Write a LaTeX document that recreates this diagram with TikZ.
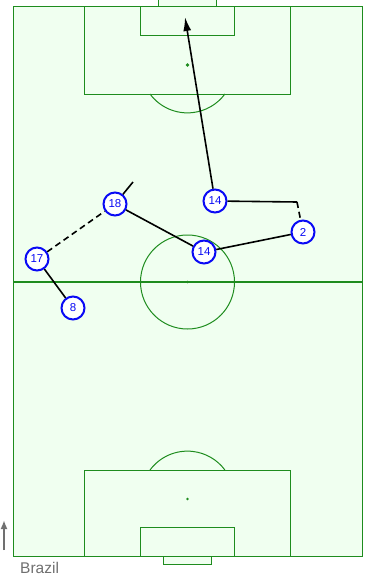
\documentclass[tikz,border=0pt]{standalone}
\usepackage{fontspec}
\setmainfont{Liberation Sans}
\usetikzlibrary{arrows.meta}
\definecolor{pitchfill}{HTML}{F0FFF0}
\definecolor{pitchline}{HTML}{1E8C1E}
\definecolor{playerblue}{HTML}{0A0AF5}
\definecolor{labelgray}{HTML}{707070}
\tikzset{
  pline/.style={draw=pitchline, line width=1pt},
  player/.style={circle, draw=playerblue, fill=white, line width=2pt, minimum size=23pt, inner sep=0pt, text=playerblue, font=\fontsize{11.5}{11.5}\selectfont},
  pass/.style={draw=black, line width=1.6pt},
  passdash/.style={pass, dash pattern=on 6pt off 4pt},
  shot/.style={pass, -{Latex[length=14pt,width=8pt]}},
}
\begin{document}
\begin{tikzpicture}[x=1pt,y=-1pt]
\useasboundingbox (0,0) rectangle (364,578);
% pitch
\fill[white] (0,0) rectangle (364,578);
\path[pline, fill=pitchfill] (13,7) rectangle (362,556);
\draw[pline, line width=1.6pt] (13,282) -- (362,282);
\draw[pline] (187.5,282) circle (47);
\draw[pitchline, line width=0.6pt] (187.5,282) circle (1);
% top end
\path[pline, fill=pitchfill] (158,0) rectangle (216,7);
\draw[pline] (84,7) rectangle (290,94);
\draw[pline] (140,7) rectangle (234,36);
\draw[pline] (187.5,65) circle (1.2);
\draw[pline] (150,94) arc[start angle=143.5, end angle=36.5, radius=46.6];
% bottom end
\path[pline, fill=pitchfill] (163,556) rectangle (211,564);
\draw[pline] (84,470) rectangle (290,556);
\draw[pline] (140,527) rectangle (234,556);
\fill[pitchline] (187.5,499) circle (1.3);
\draw[pline] (150,470) arc[start angle=216.5, end angle=323.5, radius=46.6];
% coordinates
\coordinate (goal) at (185,17);
\coordinate (turn) at (297,202);
\coordinate (run) at (133,182);
\coordinate (dirbot) at (4,550);
\coordinate (dirtop) at (4,520);
% players
\node[player] (p14a) at (215,201) {14};
\node[player] (p2) at (303,232) {2};
\node[player] (p14b) at (204,252) {14};
\node[player] (p18) at (115,204) {18};
\node[player] (p17) at (37,259) {17};
\node[player] (p8) at (73,308) {8};
% passes
\draw[shot] (p14a) -- (goal);
\draw[pass] (p14a) -- (turn);
\draw[passdash] (turn) -- (p2);
\draw[pass] (p2) -- (p14b);
\draw[pass] (p14b) -- (p18);
\draw[pass] (p18) -- (run);
\draw[passdash] (p17) -- (p18);
\draw[pass] (p17) -- (p8);
% direction
\draw[draw=labelgray, line width=1.8pt, -{Latex[length=9pt,width=7pt]}] (dirbot) -- (dirtop);
\node[text=labelgray, font=\fontsize{15.5}{15.5}\selectfont, anchor=west, inner sep=0pt] (team) at (20,568) {Brazil};
\end{tikzpicture}
\end{document}
